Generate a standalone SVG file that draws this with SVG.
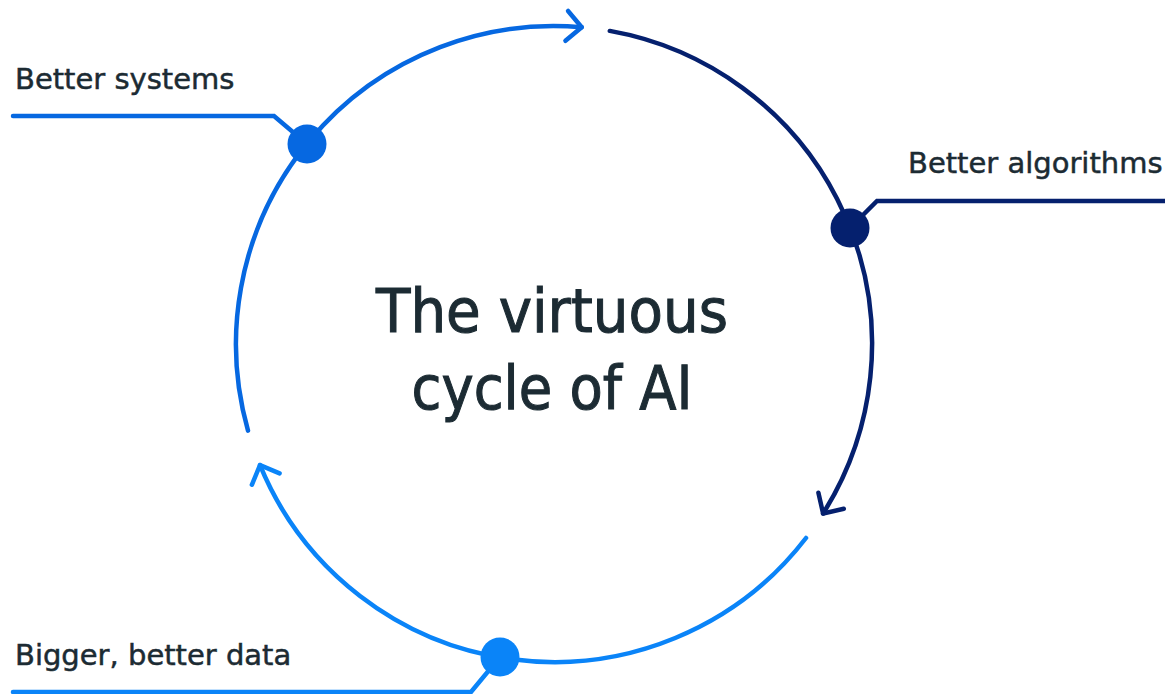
<svg xmlns="http://www.w3.org/2000/svg" width="1165" height="694" viewBox="0 0 1165 694">
  <style>
    .lbl { font-family: "DejaVu Sans", "Liberation Sans", sans-serif; font-size: 29px; fill: #1C2B33; stroke: #1C2B33; stroke-width: 0.5px; }
    .title { font-family: "DejaVu Sans", "Liberation Sans", sans-serif; font-size: 60px; fill: #1C2B33; stroke: #1C2B33; stroke-width: 1.1px; text-anchor: middle; }
    .arc { fill: none; stroke-width: 4.5; stroke-linecap: round; }
    .lead { fill: none; stroke-width: 4.5; stroke-linecap: round; stroke-linejoin: miter; }
    .blue { stroke: #0668E1; }
    .dark { stroke: #05206E; }
    .light { stroke: #0A84F8; }
  </style>
  <defs>
    <marker id="m-blue" markerUnits="userSpaceOnUse" viewBox="-22 -22 28 44" markerWidth="28" markerHeight="44" refX="0" refY="0" orient="auto">
      <path d="M-15,-15 L0,0 L-15,15" fill="none" stroke="#0668E1" stroke-width="4.5" stroke-linecap="round" stroke-linejoin="round"/>
    </marker>
    <marker id="m-dark" markerUnits="userSpaceOnUse" viewBox="-22 -22 28 44" markerWidth="28" markerHeight="44" refX="0" refY="0" orient="auto">
      <path d="M-15,-15 L0,0 L-15,15" fill="none" stroke="#05206E" stroke-width="4.5" stroke-linecap="round" stroke-linejoin="round"/>
    </marker>
    <marker id="m-light" markerUnits="userSpaceOnUse" viewBox="-22 -22 28 44" markerWidth="28" markerHeight="44" refX="0" refY="0" orient="auto">
      <path d="M-15,-15 L0,0 L-15,15" fill="none" stroke="#0A84F8" stroke-width="4.5" stroke-linecap="round" stroke-linejoin="round"/>
    </marker>
  </defs>
  <rect width="1165" height="694" fill="#FFFFFF"/>

  <g id="connectors">
    <path class="arc blue" d="M248,430.6 A318,318 0 0 1 581.7,27.2" marker-end="url(#m-blue)"/>
    <path class="arc dark" d="M609.8,30.9 A318,318 0 0 1 823.1,513.5" marker-end="url(#m-dark)"/>
    <path class="arc light" d="M806,538 A318,318 0 0 1 260,465.2" marker-end="url(#m-light)"/>
  </g>

  <g id="title">
    <text class="title" x="552" y="332" textLength="352" lengthAdjust="spacingAndGlyphs">The virtuous</text>
    <text class="title" x="552" y="409" textLength="281" lengthAdjust="spacingAndGlyphs">cycle of AI</text>
  </g>

  <g id="node-systems">
    <polyline class="lead blue" points="13,116 274,116 307,144"/>
    <circle cx="307" cy="144" r="19.5" fill="#0668E1"/>
    <text class="lbl" x="15" y="89">Better systems</text>
  </g>

  <g id="node-algorithms">
    <polyline class="lead dark" points="1167,201 877,201 850,228"/>
    <circle cx="850" cy="228" r="19.5" fill="#05206E"/>
    <text class="lbl" x="908" y="173">Better algorithms</text>
  </g>

  <g id="node-data">
    <polyline class="lead light" points="13,692 471,692 500,657"/>
    <circle cx="500" cy="657" r="19.5" fill="#0A84F8"/>
    <text class="lbl" x="15" y="665">Bigger, better data</text>
  </g>
</svg>
